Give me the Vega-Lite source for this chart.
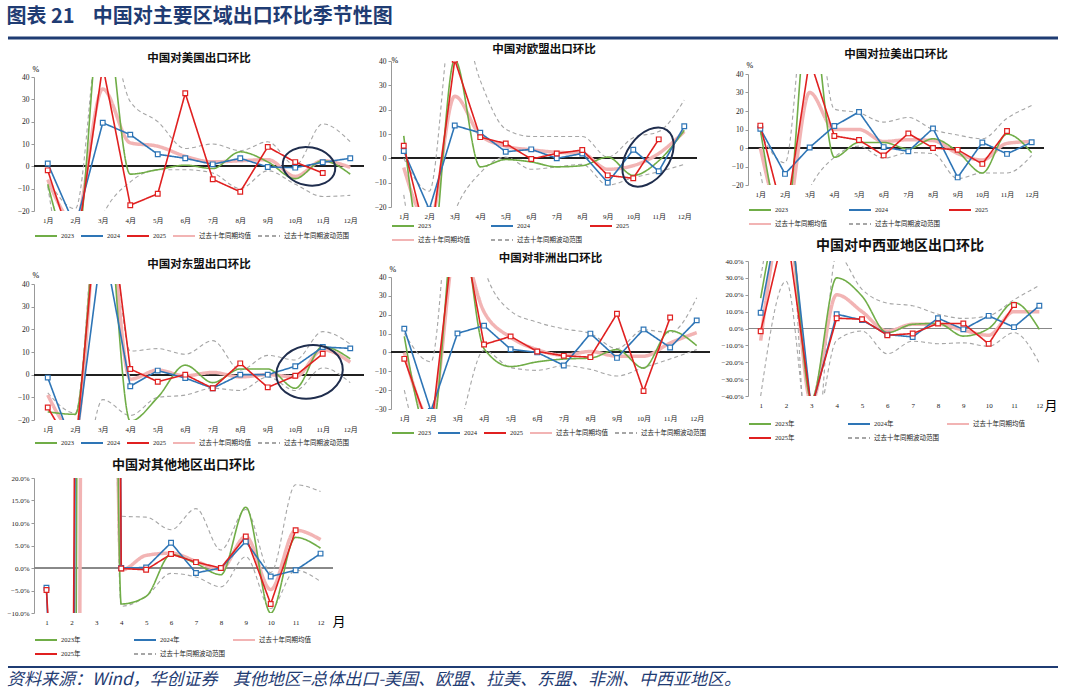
{
"$schema": "https://vega.github.io/schema/vega-lite/v6.json",
"background": "white",
"padding": {"left": 6, "top": 6, "right": 4, "bottom": 2},
"title": {"text": "图表 21\u00a0\u00a0\u00a0 中国对主要区域出口环比季节性图", "anchor": "start", "fontSize": 20, "fontWeight": "bold", "color": "#1f3c73", "offset": 10},
"columns": 1,
"spacing": 1,
"align": "none",
"resolve": {"scale": {"x": "independent", "y": "independent", "color": "independent", "strokeDash": "independent"}, "legend": {"color": "independent", "strokeDash": "independent"}},
"datasets": {
"us": [
{"m":1,"s":"2023","v":-8},{"m":2,"s":"2023","v":-40},{"m":3,"s":"2023","v":75},{"m":4,"s":"2023","v":-3.5},{"m":5,"s":"2023","v":-1.5},{"m":6,"s":"2023","v":0.5},{"m":7,"s":"2023","v":-1},{"m":8,"s":"2023","v":6.5},{"m":9,"s":"2023","v":2},{"m":10,"s":"2023","v":-5.5},{"m":11,"s":"2023","v":2.5},{"m":12,"s":"2023","v":-3.5},
{"m":1,"s":"2024","v":1.3},{"m":2,"s":"2024","v":-27},{"m":3,"s":"2024","v":19.5},{"m":4,"s":"2024","v":14.2},{"m":5,"s":"2024","v":5.4},{"m":6,"s":"2024","v":3.6},{"m":7,"s":"2024","v":0.9},{"m":8,"s":"2024","v":3.6},{"m":9,"s":"2024","v":-0.3},{"m":10,"s":"2024","v":-0.6},{"m":11,"s":"2024","v":1.8},{"m":12,"s":"2024","v":3.6},
{"m":1,"s":"2025","v":-1.8},{"m":2,"s":"2025","v":-40},{"m":3,"s":"2025","v":45},{"m":4,"s":"2025","v":-17.4},{"m":5,"s":"2025","v":-12.3},{"m":6,"s":"2025","v":32.7},{"m":7,"s":"2025","v":-5.8},{"m":8,"s":"2025","v":-11.4},{"m":9,"s":"2025","v":8.7},{"m":10,"s":"2025","v":1.9},{"m":11,"s":"2025","v":-3},
{"m":1,"s":"过去十年同期均值","v":-6},{"m":2,"s":"过去十年同期均值","v":-25},{"m":3,"s":"过去十年同期均值","v":34.6},{"m":4,"s":"过去十年同期均值","v":10.5},{"m":5,"s":"过去十年同期均值","v":9},{"m":6,"s":"过去十年同期均值","v":4.5},{"m":7,"s":"过去十年同期均值","v":2},{"m":8,"s":"过去十年同期均值","v":2.5},{"m":9,"s":"过去十年同期均值","v":3},{"m":10,"s":"过去十年同期均值","v":-4.5},{"m":11,"s":"过去十年同期均值","v":2.5},{"m":12,"s":"过去十年同期均值","v":-0.5},
{"m":1,"s":"过去十年同期波动范围","b":"u","v":-6},{"m":2,"s":"过去十年同期波动范围","b":"u","v":-19},{"m":3,"s":"过去十年同期波动范围","b":"u","v":70},{"m":4,"s":"过去十年同期波动范围","b":"u","v":29},{"m":5,"s":"过去十年同期波动范围","b":"u","v":20},{"m":6,"s":"过去十年同期波动范围","b":"u","v":8},{"m":7,"s":"过去十年同期波动范围","b":"u","v":10},{"m":8,"s":"过去十年同期波动范围","b":"u","v":7},{"m":9,"s":"过去十年同期波动范围","b":"u","v":11},{"m":10,"s":"过去十年同期波动范围","b":"u","v":0.5},{"m":11,"s":"过去十年同期波动范围","b":"u","v":19},{"m":12,"s":"过去十年同期波动范围","b":"u","v":11},
{"m":1,"s":"过去十年同期波动范围","b":"l","v":-9},{"m":2,"s":"过去十年同期波动范围","b":"l","v":-60},{"m":3,"s":"过去十年同期波动范围","b":"l","v":-22},{"m":4,"s":"过去十年同期波动范围","b":"l","v":-7},{"m":5,"s":"过去十年同期波动范围","b":"l","v":-1.5},{"m":6,"s":"过去十年同期波动范围","b":"l","v":-1.5},{"m":7,"s":"过去十年同期波动范围","b":"l","v":-3},{"m":8,"s":"过去十年同期波动范围","b":"l","v":-10},{"m":9,"s":"过去十年同期波动范围","b":"l","v":-2},{"m":10,"s":"过去十年同期波动范围","b":"l","v":-8},{"m":11,"s":"过去十年同期波动范围","b":"l","v":-13.5},{"m":12,"s":"过去十年同期波动范围","b":"l","v":-13}
],
"eu": [
{"m":1,"s":"2023","v":9.2},{"m":2,"s":"2023","v":-49},{"m":3,"s":"2023","v":40.5},{"m":4,"s":"2023","v":-3.5},{"m":5,"s":"2023","v":-0.5},{"m":6,"s":"2023","v":-1.5},{"m":7,"s":"2023","v":-3.5},{"m":8,"s":"2023","v":-3},{"m":9,"s":"2023","v":0.5},{"m":10,"s":"2023","v":-7},{"m":11,"s":"2023","v":-1},{"m":12,"s":"2023","v":11.5},
{"m":1,"s":"2024","v":3},{"m":2,"s":"2024","v":-21},{"m":3,"s":"2024","v":13.5},{"m":4,"s":"2024","v":10.5},{"m":5,"s":"2024","v":2.7},{"m":6,"s":"2024","v":3.7},{"m":7,"s":"2024","v":0},{"m":8,"s":"2024","v":2},{"m":9,"s":"2024","v":-10},{"m":10,"s":"2024","v":3.5},{"m":11,"s":"2024","v":-5.3},{"m":12,"s":"2024","v":13.2},
{"m":1,"s":"2025","v":5.2},{"m":2,"s":"2025","v":-38},{"m":3,"s":"2025","v":40.5},{"m":4,"s":"2025","v":8.7},{"m":5,"s":"2025","v":6.1},{"m":6,"s":"2025","v":-0.3},{"m":7,"s":"2025","v":2},{"m":8,"s":"2025","v":3.4},{"m":9,"s":"2025","v":-7},{"m":10,"s":"2025","v":-8.2},{"m":11,"s":"2025","v":7.8},
{"m":1,"s":"过去十年同期均值","v":-3.8},{"m":2,"s":"过去十年同期均值","v":-27},{"m":3,"s":"过去十年同期均值","v":25.5},{"m":4,"s":"过去十年同期均值","v":9.5},{"m":5,"s":"过去十年同期均值","v":5},{"m":6,"s":"过去十年同期均值","v":3.5},{"m":7,"s":"过去十年同期均值","v":2.5},{"m":8,"s":"过去十年同期均值","v":2},{"m":9,"s":"过去十年同期均值","v":-4.5},{"m":10,"s":"过去十年同期均值","v":-3},{"m":11,"s":"过去十年同期均值","v":2},{"m":12,"s":"过去十年同期均值","v":11},
{"m":1,"s":"过去十年同期波动范围","b":"u","v":0},{"m":2,"s":"过去十年同期波动范围","b":"u","v":-13.5},{"m":3,"s":"过去十年同期波动范围","b":"u","v":65},{"m":4,"s":"过去十年同期波动范围","b":"u","v":32},{"m":5,"s":"过去十年同期波动范围","b":"u","v":12},{"m":6,"s":"过去十年同期波动范围","b":"u","v":9},{"m":7,"s":"过去十年同期波动范围","b":"u","v":9},{"m":8,"s":"过去十年同期波动范围","b":"u","v":9},{"m":9,"s":"过去十年同期波动范围","b":"u","v":0.5},{"m":10,"s":"过去十年同期波动范围","b":"u","v":8.5},{"m":11,"s":"过去十年同期波动范围","b":"u","v":11},{"m":12,"s":"过去十年同期波动范围","b":"u","v":24},
{"m":1,"s":"过去十年同期波动范围","b":"l","v":-15},{"m":2,"s":"过去十年同期波动范围","b":"l","v":-60},{"m":3,"s":"过去十年同期波动范围","b":"l","v":-22},{"m":4,"s":"过去十年同期波动范围","b":"l","v":-6},{"m":5,"s":"过去十年同期波动范围","b":"l","v":0.5},{"m":6,"s":"过去十年同期波动范围","b":"l","v":-4.5},{"m":7,"s":"过去十年同期波动范围","b":"l","v":-3.5},{"m":8,"s":"过去十年同期波动范围","b":"l","v":-2.5},{"m":9,"s":"过去十年同期波动范围","b":"l","v":-11},{"m":10,"s":"过去十年同期波动范围","b":"l","v":-8},{"m":11,"s":"过去十年同期波动范围","b":"l","v":-5.5},{"m":12,"s":"过去十年同期波动范围","b":"l","v":-2.5}
],
"la": [
{"m":1,"s":"2023","v":10},{"m":2,"s":"2023","v":-45},{"m":3,"s":"2023","v":80},{"m":4,"s":"2023","v":-5},{"m":5,"s":"2023","v":3},{"m":6,"s":"2023","v":3},{"m":7,"s":"2023","v":-0.5},{"m":8,"s":"2023","v":5},{"m":9,"s":"2023","v":-2},{"m":10,"s":"2023","v":-13.5},{"m":11,"s":"2023","v":7.5},{"m":12,"s":"2023","v":-2.5},
{"m":1,"s":"2024","v":10.4},{"m":2,"s":"2024","v":-14},{"m":3,"s":"2024","v":0.3},{"m":4,"s":"2024","v":11.9},{"m":5,"s":"2024","v":19.5},{"m":6,"s":"2024","v":0.5},{"m":7,"s":"2024","v":-1.8},{"m":8,"s":"2024","v":10.6},{"m":9,"s":"2024","v":-15.9},{"m":10,"s":"2024","v":3},{"m":11,"s":"2024","v":-3.2},{"m":12,"s":"2024","v":3.1},
{"m":1,"s":"2025","v":12.1},{"m":2,"s":"2025","v":-40},{"m":3,"s":"2025","v":48},{"m":4,"s":"2025","v":6.5},{"m":5,"s":"2025","v":4.3},{"m":6,"s":"2025","v":-4},{"m":7,"s":"2025","v":7.9},{"m":8,"s":"2025","v":0},{"m":9,"s":"2025","v":-1},{"m":10,"s":"2025","v":-8.6},{"m":11,"s":"2025","v":9.2},
{"m":1,"s":"过去十年同期均值","v":0},{"m":2,"s":"过去十年同期均值","v":-40},{"m":3,"s":"过去十年同期均值","v":30},{"m":4,"s":"过去十年同期均值","v":10},{"m":5,"s":"过去十年同期均值","v":10},{"m":6,"s":"过去十年同期均值","v":3.5},{"m":7,"s":"过去十年同期均值","v":4.5},{"m":8,"s":"过去十年同期均值","v":4},{"m":9,"s":"过去十年同期均值","v":-3},{"m":10,"s":"过去十年同期均值","v":-6.5},{"m":11,"s":"过去十年同期均值","v":2.5},{"m":12,"s":"过去十年同期均值","v":3.5},
{"m":1,"s":"过去十年同期波动范围","b":"u","v":8},{"m":2,"s":"过去十年同期波动范围","b":"u","v":-8},{"m":3,"s":"过去十年同期波动范围","b":"u","v":100},{"m":4,"s":"过去十年同期波动范围","b":"u","v":21},{"m":5,"s":"过去十年同期波动范围","b":"u","v":19},{"m":6,"s":"过去十年同期波动范围","b":"u","v":14},{"m":7,"s":"过去十年同期波动范围","b":"u","v":16.5},{"m":8,"s":"过去十年同期波动范围","b":"u","v":10},{"m":9,"s":"过去十年同期波动范围","b":"u","v":7},{"m":10,"s":"过去十年同期波动范围","b":"u","v":5},{"m":11,"s":"过去十年同期波动范围","b":"u","v":16},{"m":12,"s":"过去十年同期波动范围","b":"u","v":23},
{"m":1,"s":"过去十年同期波动范围","b":"l","v":-13},{"m":2,"s":"过去十年同期波动范围","b":"l","v":-60},{"m":3,"s":"过去十年同期波动范围","b":"l","v":-22},{"m":4,"s":"过去十年同期波动范围","b":"l","v":-5},{"m":5,"s":"过去十年同期波动范围","b":"l","v":1},{"m":6,"s":"过去十年同期波动范围","b":"l","v":-5.5},{"m":7,"s":"过去十年同期波动范围","b":"l","v":-2.5},{"m":8,"s":"过去十年同期波动范围","b":"l","v":-3},{"m":9,"s":"过去十年同期波动范围","b":"l","v":-16.5},{"m":10,"s":"过去十年同期波动范围","b":"l","v":-13.5},{"m":11,"s":"过去十年同期波动范围","b":"l","v":-13.5},{"m":12,"s":"过去十年同期波动范围","b":"l","v":-4}
],
"as": [
{"m":1,"s":"2023","v":-16.4},{"m":2,"s":"2023","v":-17.5},{"m":3,"s":"2023","v":90},{"m":4,"s":"2023","v":-20.5},{"m":5,"s":"2023","v":-10},{"m":6,"s":"2023","v":4.2},{"m":7,"s":"2023","v":-3.5},{"m":8,"s":"2023","v":2.5},{"m":9,"s":"2023","v":2.5},{"m":10,"s":"2023","v":-6},{"m":11,"s":"2023","v":12.4},{"m":12,"s":"2023","v":7},
{"m":1,"s":"2024","v":-1.3},{"m":2,"s":"2024","v":-34},{"m":3,"s":"2024","v":60},{"m":4,"s":"2024","v":-5.1},{"m":5,"s":"2024","v":1.8},{"m":6,"s":"2024","v":-1.5},{"m":7,"s":"2024","v":-6},{"m":8,"s":"2024","v":0},{"m":9,"s":"2024","v":0},{"m":10,"s":"2024","v":3.7},{"m":11,"s":"2024","v":12.2},{"m":12,"s":"2024","v":11.6},
{"m":1,"s":"2025","v":-14.5},{"m":2,"s":"2025","v":-35},{"m":3,"s":"2025","v":100},{"m":4,"s":"2025","v":2.5},{"m":5,"s":"2025","v":-3.1},{"m":6,"s":"2025","v":0},{"m":7,"s":"2025","v":-6},{"m":8,"s":"2025","v":5},{"m":9,"s":"2025","v":-5.6},{"m":10,"s":"2025","v":-0.5},{"m":11,"s":"2025","v":9.2},
{"m":1,"s":"过去十年同期均值","v":-9},{"m":2,"s":"过去十年同期均值","v":-25},{"m":3,"s":"过去十年同期均值","v":90},{"m":4,"s":"过去十年同期均值","v":-2},{"m":5,"s":"过去十年同期均值","v":2},{"m":6,"s":"过去十年同期均值","v":-0.5},{"m":7,"s":"过去十年同期均值","v":1},{"m":8,"s":"过去十年同期均值","v":-1},{"m":9,"s":"过去十年同期均值","v":0},{"m":10,"s":"过去十年同期均值","v":-1},{"m":11,"s":"过去十年同期均值","v":11},{"m":12,"s":"过去十年同期均值","v":5.5},
{"m":1,"s":"过去十年同期波动范围","b":"u","v":-8},{"m":2,"s":"过去十年同期波动范围","b":"u","v":-17},{"m":3,"s":"过去十年同期波动范围","b":"u","v":100},{"m":4,"s":"过去十年同期波动范围","b":"u","v":10.4},{"m":5,"s":"过去十年同期波动范围","b":"u","v":11.5},{"m":6,"s":"过去十年同期波动范围","b":"u","v":9},{"m":7,"s":"过去十年同期波动范围","b":"u","v":15},{"m":8,"s":"过去十年同期波动范围","b":"u","v":2},{"m":9,"s":"过去十年同期波动范围","b":"u","v":8.5},{"m":10,"s":"过去十年同期波动范围","b":"u","v":6.5},{"m":11,"s":"过去十年同期波动范围","b":"u","v":19},{"m":12,"s":"过去十年同期波动范围","b":"u","v":13.5},
{"m":1,"s":"过去十年同期波动范围","b":"l","v":-30},{"m":2,"s":"过去十年同期波动范围","b":"l","v":-60},{"m":3,"s":"过去十年同期波动范围","b":"l","v":-11},{"m":4,"s":"过去十年同期波动范围","b":"l","v":-18},{"m":5,"s":"过去十年同期波动范围","b":"l","v":-10},{"m":6,"s":"过去十年同期波动范围","b":"l","v":-9},{"m":7,"s":"过去十年同期波动范围","b":"l","v":-6},{"m":8,"s":"过去十年同期波动范围","b":"l","v":-7},{"m":9,"s":"过去十年同期波动范围","b":"l","v":-1},{"m":10,"s":"过去十年同期波动范围","b":"l","v":-7},{"m":11,"s":"过去十年同期波动范围","b":"l","v":3},{"m":12,"s":"过去十年同期波动范围","b":"l","v":-3.5}
],
"af": [
{"m":1,"s":"2023","v":8.5},{"m":2,"s":"2023","v":-45},{"m":3,"s":"2023","v":80},{"m":4,"s":"2023","v":2},{"m":5,"s":"2023","v":-7.5},{"m":6,"s":"2023","v":-5},{"m":7,"s":"2023","v":-3.5},{"m":8,"s":"2023","v":-3},{"m":9,"s":"2023","v":1.5},{"m":10,"s":"2023","v":-8.3},{"m":11,"s":"2023","v":11.5},{"m":12,"s":"2023","v":3.6},
{"m":1,"s":"2024","v":12.6},{"m":2,"s":"2024","v":-31},{"m":3,"s":"2024","v":10.1},{"m":4,"s":"2024","v":14.2},{"m":5,"s":"2024","v":1.7},{"m":6,"s":"2024","v":0},{"m":7,"s":"2024","v":-6.9},{"m":8,"s":"2024","v":10},{"m":9,"s":"2024","v":-2.9},{"m":10,"s":"2024","v":12.2},{"m":11,"s":"2024","v":2.6},{"m":12,"s":"2024","v":17},
{"m":1,"s":"2025","v":-3.4},{"m":2,"s":"2025","v":-43},{"m":3,"s":"2025","v":80},{"m":4,"s":"2025","v":4.2},{"m":5,"s":"2025","v":8.5},{"m":6,"s":"2025","v":0.5},{"m":7,"s":"2025","v":-1.8},{"m":8,"s":"2025","v":-2.5},{"m":9,"s":"2025","v":20.5},{"m":10,"s":"2025","v":-20.5},{"m":11,"s":"2025","v":18.5},
{"m":1,"s":"过去十年同期均值","v":0},{"m":2,"s":"过去十年同期均值","v":-35},{"m":3,"s":"过去十年同期均值","v":60},{"m":4,"s":"过去十年同期均值","v":21.5},{"m":5,"s":"过去十年同期均值","v":8},{"m":6,"s":"过去十年同期均值","v":1.5},{"m":7,"s":"过去十年同期均值","v":-1.5},{"m":8,"s":"过去十年同期均值","v":0.5},{"m":9,"s":"过去十年同期均值","v":-2},{"m":10,"s":"过去十年同期均值","v":-2},{"m":11,"s":"过去十年同期均值","v":5},{"m":12,"s":"过去十年同期均值","v":10.5},
{"m":1,"s":"过去十年同期波动范围","b":"u","v":10},{"m":2,"s":"过去十年同期波动范围","b":"u","v":-5},{"m":3,"s":"过去十年同期波动范围","b":"u","v":120},{"m":4,"s":"过去十年同期波动范围","b":"u","v":45},{"m":5,"s":"过去十年同期波动范围","b":"u","v":22},{"m":6,"s":"过去十年同期波动范围","b":"u","v":16},{"m":7,"s":"过去十年同期波动范围","b":"u","v":12.5},{"m":8,"s":"过去十年同期波动范围","b":"u","v":10},{"m":9,"s":"过去十年同期波动范围","b":"u","v":2},{"m":10,"s":"过去十年同期波动范围","b":"u","v":12},{"m":11,"s":"过去十年同期波动范围","b":"u","v":10.5},{"m":12,"s":"过去十年同期波动范围","b":"u","v":29},
{"m":1,"s":"过去十年同期波动范围","b":"l","v":-20},{"m":2,"s":"过去十年同期波动范围","b":"l","v":-60},{"m":3,"s":"过去十年同期波动范围","b":"l","v":-42},{"m":4,"s":"过去十年同期波动范围","b":"l","v":1},{"m":5,"s":"过去十年同期波动范围","b":"l","v":-8},{"m":6,"s":"过去十年同期波动范围","b":"l","v":-9.5},{"m":7,"s":"过去十年同期波动范围","b":"l","v":-7},{"m":8,"s":"过去十年同期波动范围","b":"l","v":-9},{"m":9,"s":"过去十年同期波动范围","b":"l","v":-12.5},{"m":10,"s":"过去十年同期波动范围","b":"l","v":-8},{"m":11,"s":"过去十年同期波动范围","b":"l","v":-3.5},{"m":12,"s":"过去十年同期波动范围","b":"l","v":1.5}
],
"cw": [
{"m":1,"s":"2023年","v":18},{"m":2,"s":"2023年","v":75},{"m":3,"s":"2023年","v":-42},{"m":4,"s":"2023年","v":30},{"m":5,"s":"2023年","v":19.2},{"m":6,"s":"2023年","v":-2.5},{"m":7,"s":"2023年","v":2.5},{"m":8,"s":"2023年","v":3},{"m":9,"s":"2023年","v":-4.5},{"m":10,"s":"2023年","v":0},{"m":11,"s":"2023年","v":15.4},{"m":12,"s":"2023年","v":-0.5},
{"m":1,"s":"2024年","v":9.3},{"m":2,"s":"2024年","v":90},{"m":3,"s":"2024年","v":-48},{"m":4,"s":"2024年","v":8.5},{"m":5,"s":"2024年","v":5},{"m":6,"s":"2024年","v":-3.6},{"m":7,"s":"2024年","v":-5},{"m":8,"s":"2024年","v":6.1},{"m":9,"s":"2024年","v":-0.5},{"m":10,"s":"2024年","v":7.5},{"m":11,"s":"2024年","v":0.8},{"m":12,"s":"2024年","v":13.5},
{"m":1,"s":"2025年","v":-1.6},{"m":2,"s":"2025年","v":62},{"m":3,"s":"2025年","v":-47},{"m":4,"s":"2025年","v":6.1},{"m":5,"s":"2025年","v":5.5},{"m":6,"s":"2025年","v":-4},{"m":7,"s":"2025年","v":-3},{"m":8,"s":"2025年","v":3},{"m":9,"s":"2025年","v":3},{"m":10,"s":"2025年","v":-9.1},{"m":11,"s":"2025年","v":13.9},
{"m":1,"s":"过去十年同期均值","v":-7.2},{"m":2,"s":"过去十年同期均值","v":70},{"m":3,"s":"过去十年同期均值","v":-44},{"m":4,"s":"过去十年同期均值","v":20},{"m":5,"s":"过去十年同期均值","v":10},{"m":6,"s":"过去十年同期均值","v":-1.5},{"m":7,"s":"过去十年同期均值","v":2.5},{"m":8,"s":"过去十年同期均值","v":2.5},{"m":9,"s":"过去十年同期均值","v":-1},{"m":10,"s":"过去十年同期均值","v":-4},{"m":11,"s":"过去十年同期均值","v":10},{"m":12,"s":"过去十年同期均值","v":10},
{"m":1,"s":"过去十年同期波动范围","b":"u","v":30},{"m":2,"s":"过去十年同期波动范围","b":"u","v":90},{"m":3,"s":"过去十年同期波动范围","b":"u","v":-100},{"m":4,"s":"过去十年同期波动范围","b":"u","v":44},{"m":5,"s":"过去十年同期波动范围","b":"u","v":23.2},{"m":6,"s":"过去十年同期波动范围","b":"u","v":15},{"m":7,"s":"过去十年同期波动范围","b":"u","v":13.5},{"m":8,"s":"过去十年同期波动范围","b":"u","v":8.5},{"m":9,"s":"过去十年同期波动范围","b":"u","v":6},{"m":10,"s":"过去十年同期波动范围","b":"u","v":7.5},{"m":11,"s":"过去十年同期波动范围","b":"u","v":17},{"m":12,"s":"过去十年同期波动范围","b":"u","v":25.5},
{"m":1,"s":"过去十年同期波动范围","b":"l","v":-40},{"m":2,"s":"过去十年同期波动范围","b":"l","v":28},{"m":3,"s":"过去十年同期波动范围","b":"l","v":-70},{"m":4,"s":"过去十年同期波动范围","b":"l","v":-7},{"m":5,"s":"过去十年同期波动范围","b":"l","v":-1.5},{"m":6,"s":"过去十年同期波动范围","b":"l","v":-15},{"m":7,"s":"过去十年同期波动范围","b":"l","v":-7.5},{"m":8,"s":"过去十年同期波动范围","b":"l","v":-9},{"m":9,"s":"过去十年同期波动范围","b":"l","v":-8.5},{"m":10,"s":"过去十年同期波动范围","b":"l","v":-10.5},{"m":11,"s":"过去十年同期波动范围","b":"l","v":-2.5},{"m":12,"s":"过去十年同期波动范围","b":"l","v":-20.5}
],
"ot": [
{"m":2,"s":"2023年","v":-300},{"m":3,"s":"2023年","v":700},{"m":4,"s":"2023年","v":-8},{"m":5,"s":"2023年","v":-6.3},{"m":6,"s":"2023年","v":3},{"m":7,"s":"2023年","v":1},{"m":8,"s":"2023年","v":-1.5},{"m":9,"s":"2023年","v":13.5},{"m":10,"s":"2023年","v":-10},{"m":11,"s":"2023年","v":6.8},{"m":12,"s":"2023年","v":4.4},
{"m":1,"s":"2024年","v":-4.4},{"m":2,"s":"2024年","v":-150},{"m":3,"s":"2024年","v":1000},{"m":4,"s":"2024年","v":0},{"m":5,"s":"2024年","v":0.1},{"m":6,"s":"2024年","v":5.6},{"m":7,"s":"2024年","v":-1.1},{"m":8,"s":"2024年","v":0},{"m":9,"s":"2024年","v":5.9},{"m":10,"s":"2024年","v":-1.9},{"m":11,"s":"2024年","v":-0.5},{"m":12,"s":"2024年","v":3.2},
{"m":1,"s":"2025年","v":-4.9},{"m":2,"s":"2025年","v":-100},{"m":3,"s":"2025年","v":900},{"m":4,"s":"2025年","v":-0.1},{"m":5,"s":"2025年","v":-0.4},{"m":6,"s":"2025年","v":3.1},{"m":7,"s":"2025年","v":1.3},{"m":8,"s":"2025年","v":0},{"m":9,"s":"2025年","v":7},{"m":10,"s":"2025年","v":-8},{"m":11,"s":"2025年","v":8.4},
{"m":2,"s":"过去十年同期均值","v":-500},{"m":3,"s":"过去十年同期均值","v":500},{"m":4,"s":"过去十年同期均值","v":-0.5},{"m":5,"s":"过去十年同期均值","v":2.8},{"m":6,"s":"过去十年同期均值","v":3.3},{"m":7,"s":"过去十年同期均值","v":1.5},{"m":8,"s":"过去十年同期均值","v":-0.3},{"m":9,"s":"过去十年同期均值","v":7},{"m":10,"s":"过去十年同期均值","v":-4.8},{"m":11,"s":"过去十年同期均值","v":8.4},{"m":12,"s":"过去十年同期均值","v":6.3},
{"m":3,"s":"过去十年同期波动范围","b":"u","v":1500},{"m":4,"s":"过去十年同期波动范围","b":"u","v":11.5},{"m":5,"s":"过去十年同期波动范围","b":"u","v":11.3},{"m":6,"s":"过去十年同期波动范围","b":"u","v":8.5},{"m":7,"s":"过去十年同期波动范围","b":"u","v":13.2},{"m":8,"s":"过去十年同期波动范围","b":"u","v":4},{"m":9,"s":"过去十年同期波动范围","b":"u","v":13},{"m":10,"s":"过去十年同期波动范围","b":"u","v":-1},{"m":11,"s":"过去十年同期波动范围","b":"u","v":18.5},{"m":12,"s":"过去十年同期波动范围","b":"u","v":17},
{"m":3,"s":"过去十年同期波动范围","b":"l","v":800},{"m":4,"s":"过去十年同期波动范围","b":"l","v":-8.5},{"m":5,"s":"过去十年同期波动范围","b":"l","v":-6.3},{"m":6,"s":"过去十年同期波动范围","b":"l","v":-1.2},{"m":7,"s":"过去十年同期波动范围","b":"l","v":-2},{"m":8,"s":"过去十年同期波动范围","b":"l","v":-4.2},{"m":9,"s":"过去十年同期波动范围","b":"l","v":2.5},{"m":10,"s":"过去十年同期波动范围","b":"l","v":-9},{"m":11,"s":"过去十年同期波动范围","b":"l","v":-0.5},{"m":12,"s":"过去十年同期波动范围","b":"l","v":-3}
]
},
"concat": [
{"width": 1024, "height": 1, "data": {"values": [{"a": -0.0254, "b": 1, "y": 0}]}, "mark": {"type": "rule", "color": "#1f3c73", "strokeWidth": 3}, "encoding": {"x": {"field": "a", "type": "quantitative", "scale": {"domain": [0, 1]}, "axis": null}, "x2": {"field": "b"}, "y": {"field": "y", "type": "quantitative", "scale": {"domain": [0, 1]}, "axis": null}}},
{"hconcat": [
 {"vconcat": [
  {"width": 1, "height": 10, "data": {"values": []}, "mark": "rule", "encoding": {}},
  {"vconcat": [
   {"width": 330, "height": 134, "title": {"text": "中国对美国出口环比", "fontSize": 11.5, "offset": 1}, "data": {"name": "us"},
    "layer": [
     {"mark": {"type": "rule", "color": "#222", "strokeWidth": 0.8}, "encoding": {"y": {"datum": 0}}},
     {"transform": [{"filter": {"field": "s", "equal": "过去十年同期波动范围"}}], "mark": {"type": "line", "interpolate": "monotone", "clip": true, "strokeWidth": 1.1},
      "encoding": {"x": {"field": "m", "type": "quantitative", "scale": {"domain": [0.5, 12.5], "nice": false, "zero": false}, "axis": {"values": [1,2,3,4,5,6,7,8,9,10,11,12], "tickCount": 30, "labelOverlap": false, "labelExpr": "datum.value + '月'", "title": null}},
       "y": {"field": "v", "type": "quantitative", "scale": {"domain": [-20, 40], "nice": false, "zero": false}, "axis": {"values": [-20,-10,0,10,20,30,40], "tickCount": 30, "labelOverlap": false, "title": "%", "titleAngle": 0, "titleAlign": "left", "titleBaseline": "bottom", "titleX": -2, "titleY": -4, "titleFontSize": 8, "titleFontWeight": "normal", "titleFont": "Liberation Serif"}},
       "color": {"field": "s", "type": "nominal", "scale": {"domain": ["2023","2024","2025","过去十年同期均值","过去十年同期波动范围"], "range": ["#70ad47","#2e75b6","#e02020","#f2b4b4","#a6a6a6"]}, "legend": {"title": null, "orient": "bottom", "direction": "horizontal", "columns": 5, "offset": 7}},
       "strokeDash": {"field": "s", "type": "nominal", "scale": {"domain": ["2023","2024","2025","过去十年同期均值","过去十年同期波动范围"], "range": [[1,0],[1,0],[1,0],[1,0],[4,3]]}, "legend": {"title": null, "orient": "bottom", "direction": "horizontal", "columns": 5, "offset": 7}},
       "detail": {"field": "b"}}},
     {"transform": [{"filter": {"field": "s", "equal": "过去十年同期均值"}}], "mark": {"type": "line", "interpolate": "monotone", "clip": true, "strokeWidth": 3.5}, "encoding": {"x": {"field": "m", "type": "quantitative"}, "y": {"field": "v", "type": "quantitative"}, "color": {"field": "s", "type": "nominal"}, "strokeDash": {"field": "s", "type": "nominal"}}},
     {"transform": [{"filter": {"field": "s", "equal": "2023"}}], "mark": {"type": "line", "interpolate": "monotone", "clip": true, "strokeWidth": 1.6}, "encoding": {"x": {"field": "m", "type": "quantitative"}, "y": {"field": "v", "type": "quantitative"}, "color": {"field": "s", "type": "nominal"}, "strokeDash": {"field": "s", "type": "nominal"}}},
     {"transform": [{"filter": {"field": "s", "oneOf": ["2024","2025"]}}], "mark": {"type": "line", "clip": true, "strokeWidth": 1.6}, "encoding": {"x": {"field": "m", "type": "quantitative"}, "y": {"field": "v", "type": "quantitative"}, "color": {"field": "s", "type": "nominal"}, "strokeDash": {"field": "s", "type": "nominal"}}},
     {"transform": [{"filter": {"field": "s", "oneOf": ["2024","2025"]}}], "mark": {"type": "point", "shape": "square", "filled": false, "fill": "white", "size": 22, "strokeWidth": 1.2, "opacity": 1, "clip": true}, "encoding": {"x": {"field": "m", "type": "quantitative"}, "y": {"field": "v", "type": "quantitative"}, "color": {"field": "s", "type": "nominal"}}},
     {"data": {"values": [{"m": 10.5, "v": 0}]}, "mark": {"type": "point", "shape": "M-1,0A1,0.72 0 1,1 1,0A1,0.72 0 1,1 -1,0Z", "size": 2800, "angle": 10, "filled": false, "stroke": "#1f2d4d", "strokeWidth": 2, "opacity": 1}, "encoding": {"x": {"field": "m", "type": "quantitative"}, "y": {"field": "v", "type": "quantitative"}}}
    ]},
   {"vconcat": [
   {"width": 330, "height": 136, "title": {"text": "中国对东盟出口环比", "fontSize": 11.5, "offset": 1}, "data": {"name": "as"},
    "layer": [
     {"mark": {"type": "rule", "color": "#222", "strokeWidth": 0.8}, "encoding": {"y": {"datum": 0}}},
     {"transform": [{"filter": {"field": "s", "equal": "过去十年同期波动范围"}}], "mark": {"type": "line", "interpolate": "monotone", "clip": true, "strokeWidth": 1.1},
      "encoding": {"x": {"field": "m", "type": "quantitative", "scale": {"domain": [0.5, 12.5], "nice": false, "zero": false}, "axis": {"values": [1,2,3,4,5,6,7,8,9,10,11,12], "tickCount": 30, "labelOverlap": false, "labelExpr": "datum.value + '月'", "title": null}},
       "y": {"field": "v", "type": "quantitative", "scale": {"domain": [-20, 40], "nice": false, "zero": false}, "axis": {"values": [-20,-10,0,10,20,30,40], "tickCount": 30, "labelOverlap": false, "title": "%", "titleAngle": 0, "titleAlign": "left", "titleBaseline": "bottom", "titleX": -2, "titleY": -5, "titleFontSize": 8, "titleFontWeight": "normal", "titleFont": "Liberation Serif"}},
       "color": {"field": "s", "type": "nominal", "scale": {"domain": ["2023","2024","2025","过去十年同期均值","过去十年同期波动范围"], "range": ["#70ad47","#2e75b6","#e02020","#f2b4b4","#a6a6a6"]}, "legend": {"title": null, "orient": "bottom", "direction": "horizontal", "columns": 5, "offset": 5}},
       "strokeDash": {"field": "s", "type": "nominal", "scale": {"domain": ["2023","2024","2025","过去十年同期均值","过去十年同期波动范围"], "range": [[1,0],[1,0],[1,0],[1,0],[4,3]]}, "legend": {"title": null, "orient": "bottom", "direction": "horizontal", "columns": 5, "offset": 5}},
       "detail": {"field": "b"}}},
     {"transform": [{"filter": {"field": "s", "equal": "过去十年同期均值"}}], "mark": {"type": "line", "interpolate": "monotone", "clip": true, "strokeWidth": 3.5}, "encoding": {"x": {"field": "m", "type": "quantitative"}, "y": {"field": "v", "type": "quantitative"}, "color": {"field": "s", "type": "nominal"}, "strokeDash": {"field": "s", "type": "nominal"}}},
     {"transform": [{"filter": {"field": "s", "equal": "2023"}}], "mark": {"type": "line", "interpolate": "monotone", "clip": true, "strokeWidth": 1.6}, "encoding": {"x": {"field": "m", "type": "quantitative"}, "y": {"field": "v", "type": "quantitative"}, "color": {"field": "s", "type": "nominal"}, "strokeDash": {"field": "s", "type": "nominal"}}},
     {"transform": [{"filter": {"field": "s", "oneOf": ["2024","2025"]}}], "mark": {"type": "line", "clip": true, "strokeWidth": 1.6}, "encoding": {"x": {"field": "m", "type": "quantitative"}, "y": {"field": "v", "type": "quantitative"}, "color": {"field": "s", "type": "nominal"}, "strokeDash": {"field": "s", "type": "nominal"}}},
     {"transform": [{"filter": {"field": "s", "oneOf": ["2024","2025"]}}], "mark": {"type": "point", "shape": "square", "filled": false, "fill": "white", "size": 22, "strokeWidth": 1.2, "opacity": 1, "clip": true}, "encoding": {"x": {"field": "m", "type": "quantitative"}, "y": {"field": "v", "type": "quantitative"}, "color": {"field": "s", "type": "nominal"}}},
     {"data": {"values": [{"m": 10.52, "v": 1.2}]}, "mark": {"type": "point", "shape": "M-1,0A1,0.79 0 1,1 1,0A1,0.79 0 1,1 -1,0Z", "size": 4489, "angle": -12, "filled": false, "stroke": "#1f2d4d", "strokeWidth": 2, "opacity": 1}, "encoding": {"x": {"field": "m", "type": "quantitative"}, "y": {"field": "v", "type": "quantitative"}}}
    ]},
   {"width": 299, "height": 135, "title": {"text": "中国对其他地区出口环比", "fontSize": 13, "offset": 2}, "data": {"name": "ot"},
    "layer": [
     {"mark": {"type": "rule", "color": "#888", "strokeWidth": 1}, "encoding": {"y": {"datum": 0}}},
     {"transform": [{"filter": {"field": "s", "equal": "过去十年同期波动范围"}}], "mark": {"type": "line", "interpolate": "monotone", "clip": true, "strokeWidth": 1.1},
      "encoding": {"x": {"field": "m", "type": "quantitative", "scale": {"domain": [0.5, 12.5], "nice": false, "zero": false}, "axis": {"values": [1,2,3,4,5,6,7,8,9,10,11,12], "tickCount": 30, "labelOverlap": false, "format": "d", "title": "月", "titleFontSize": 13, "titleFont": "Noto Sans CJK SC", "titleFontWeight": "normal", "titleAlign": "left", "titleBaseline": "alphabetic", "titleX": 298, "titleY": 12}},
       "y": {"field": "v", "type": "quantitative", "scale": {"domain": [-10, 20], "nice": false, "zero": false}, "axis": {"values": [-10,-5,0,5,10,15,20], "tickCount": 30, "labelOverlap": false, "labelExpr": "format(datum.value, '.1f') + '%'", "title": null, "labelFontSize": 7}},
       "color": {"field": "s", "type": "nominal", "scale": {"domain": ["2023年","2024年","过去十年同期均值","2025年","过去十年同期波动范围"], "range": ["#70ad47","#2e75b6","#f2b4b4","#e02020","#a6a6a6"]}, "legend": {"title": null, "orient": "bottom", "direction": "horizontal", "columns": 3, "gridAlign": "all", "columnPadding": 4, "offset": 6}},
       "strokeDash": {"field": "s", "type": "nominal", "scale": {"domain": ["2023年","2024年","过去十年同期均值","2025年","过去十年同期波动范围"], "range": [[1,0],[1,0],[1,0],[1,0],[4,3]]}, "legend": {"title": null, "orient": "bottom", "direction": "horizontal", "columns": 3, "gridAlign": "all", "columnPadding": 4, "offset": 6}},
       "detail": {"field": "b"}}},
     {"transform": [{"filter": {"field": "s", "equal": "过去十年同期均值"}}], "mark": {"type": "line", "interpolate": "monotone", "clip": true, "strokeWidth": 3.5}, "encoding": {"x": {"field": "m", "type": "quantitative"}, "y": {"field": "v", "type": "quantitative"}, "color": {"field": "s", "type": "nominal"}, "strokeDash": {"field": "s", "type": "nominal"}}},
     {"transform": [{"filter": {"field": "s", "equal": "2023年"}}], "mark": {"type": "line", "interpolate": "monotone", "clip": true, "strokeWidth": 1.6}, "encoding": {"x": {"field": "m", "type": "quantitative"}, "y": {"field": "v", "type": "quantitative"}, "color": {"field": "s", "type": "nominal"}, "strokeDash": {"field": "s", "type": "nominal"}}},
     {"transform": [{"filter": {"field": "s", "oneOf": ["2024年","2025年"]}}], "mark": {"type": "line", "clip": true, "strokeWidth": 1.6}, "encoding": {"x": {"field": "m", "type": "quantitative"}, "y": {"field": "v", "type": "quantitative"}, "color": {"field": "s", "type": "nominal"}, "strokeDash": {"field": "s", "type": "nominal"}}},
     {"transform": [{"filter": {"field": "s", "oneOf": ["2024年","2025年"]}}], "mark": {"type": "point", "shape": "square", "filled": false, "fill": "white", "size": 22, "strokeWidth": 1.2, "opacity": 1, "clip": true}, "encoding": {"x": {"field": "m", "type": "quantitative"}, "y": {"field": "v", "type": "quantitative"}, "color": {"field": "s", "type": "nominal"}}}
    ]}
   ], "spacing": 12, "resolve": {"scale": {"x": "independent", "y": "independent", "color": "independent", "strokeDash": "independent"}, "legend": {"color": "independent", "strokeDash": "independent"}}}
  ], "spacing": 18, "resolve": {"scale": {"x": "independent", "y": "independent", "color": "independent", "strokeDash": "independent"}, "legend": {"color": "independent", "strokeDash": "independent"}}}
 ], "spacing": 1, "resolve": {"scale": {"x": "independent", "y": "independent", "color": "independent", "strokeDash": "independent"}, "legend": {"color": "independent", "strokeDash": "independent"}}},
 {"vconcat": [
  {"width": 1, "height": 1, "data": {"values": []}, "mark": "rule", "encoding": {}},
  {"vconcat": [
   {"width": 306, "height": 146, "title": {"text": "中国对欧盟出口环比", "fontSize": 11.5, "offset": 1}, "data": {"name": "eu"},
    "layer": [
     {"mark": {"type": "rule", "color": "#222", "strokeWidth": 0.8}, "encoding": {"y": {"datum": 0}}},
     {"transform": [{"filter": {"field": "s", "equal": "过去十年同期波动范围"}}], "mark": {"type": "line", "interpolate": "monotone", "clip": true, "strokeWidth": 1.1},
      "encoding": {"x": {"field": "m", "type": "quantitative", "scale": {"domain": [0.5, 12.5], "nice": false, "zero": false}, "axis": {"values": [1,2,3,4,5,6,7,8,9,10,11,12], "tickCount": 30, "labelOverlap": false, "labelExpr": "datum.value + '月'", "title": null}},
       "y": {"field": "v", "type": "quantitative", "scale": {"domain": [-20, 40], "nice": false, "zero": false}, "axis": {"values": [-20,-10,0,10,20,30,40], "tickCount": 30, "labelOverlap": false, "title": "%", "titleAngle": 0, "titleAlign": "left", "titleBaseline": "bottom", "titleX": 0, "titleY": 3, "titleFontSize": 8, "titleFontWeight": "normal", "titleFont": "Liberation Serif"}},
       "color": {"field": "s", "type": "nominal", "scale": {"domain": ["2023","2024","2025","过去十年同期均值","过去十年同期波动范围"], "range": ["#70ad47","#2e75b6","#e02020","#f2b4b4","#a6a6a6"]}, "legend": {"title": null, "orient": "bottom", "direction": "horizontal", "columns": 3, "gridAlign": "all", "columnPadding": 4, "offset": 1}},
       "strokeDash": {"field": "s", "type": "nominal", "scale": {"domain": ["2023","2024","2025","过去十年同期均值","过去十年同期波动范围"], "range": [[1,0],[1,0],[1,0],[1,0],[4,3]]}, "legend": {"title": null, "orient": "bottom", "direction": "horizontal", "columns": 3, "gridAlign": "all", "columnPadding": 4, "offset": 1}},
       "detail": {"field": "b"}}},
     {"transform": [{"filter": {"field": "s", "equal": "过去十年同期均值"}}], "mark": {"type": "line", "interpolate": "monotone", "clip": true, "strokeWidth": 3.5}, "encoding": {"x": {"field": "m", "type": "quantitative"}, "y": {"field": "v", "type": "quantitative"}, "color": {"field": "s", "type": "nominal"}, "strokeDash": {"field": "s", "type": "nominal"}}},
     {"transform": [{"filter": {"field": "s", "equal": "2023"}}], "mark": {"type": "line", "interpolate": "monotone", "clip": true, "strokeWidth": 1.6}, "encoding": {"x": {"field": "m", "type": "quantitative"}, "y": {"field": "v", "type": "quantitative"}, "color": {"field": "s", "type": "nominal"}, "strokeDash": {"field": "s", "type": "nominal"}}},
     {"transform": [{"filter": {"field": "s", "oneOf": ["2024","2025"]}}], "mark": {"type": "line", "clip": true, "strokeWidth": 1.6}, "encoding": {"x": {"field": "m", "type": "quantitative"}, "y": {"field": "v", "type": "quantitative"}, "color": {"field": "s", "type": "nominal"}, "strokeDash": {"field": "s", "type": "nominal"}}},
     {"transform": [{"filter": {"field": "s", "oneOf": ["2024","2025"]}}], "mark": {"type": "point", "shape": "square", "filled": false, "fill": "white", "size": 22, "strokeWidth": 1.2, "opacity": 1, "clip": true}, "encoding": {"x": {"field": "m", "type": "quantitative"}, "y": {"field": "v", "type": "quantitative"}, "color": {"field": "s", "type": "nominal"}}},
     {"data": {"values": [{"m": 10.58, "v": 0.5}]}, "mark": {"type": "point", "shape": "M-1,0A1,0.64 0 1,1 1,0A1,0.64 0 1,1 -1,0Z", "size": 4356, "angle": -55, "filled": false, "stroke": "#1f2d4d", "strokeWidth": 2, "opacity": 1}, "encoding": {"x": {"field": "m", "type": "quantitative"}, "y": {"field": "v", "type": "quantitative"}}}
    ]},
   {"width": 319, "height": 132, "title": {"text": "中国对非洲出口环比", "fontSize": 11.5, "offset": 1}, "data": {"name": "af"},
    "layer": [
     {"mark": {"type": "rule", "color": "#222", "strokeWidth": 0.8}, "encoding": {"y": {"datum": 0}}},
     {"transform": [{"filter": {"field": "s", "equal": "过去十年同期波动范围"}}], "mark": {"type": "line", "interpolate": "monotone", "clip": true, "strokeWidth": 1.1},
      "encoding": {"x": {"field": "m", "type": "quantitative", "scale": {"domain": [0.5, 12.5], "nice": false, "zero": false}, "axis": {"values": [1,2,3,4,5,6,7,8,9,10,11,12], "tickCount": 30, "labelOverlap": false, "labelExpr": "datum.value + '月'", "title": null}},
       "y": {"field": "v", "type": "quantitative", "scale": {"domain": [-30, 40], "nice": false, "zero": false}, "axis": {"values": [-30,-20,-10,0,10,20,30,40], "tickCount": 30, "labelOverlap": false, "title": "%", "titleAngle": 0, "titleAlign": "left", "titleBaseline": "bottom", "titleX": -2, "titleY": -4, "titleFontSize": 8, "titleFontWeight": "normal", "titleFont": "Liberation Serif"}},
       "color": {"field": "s", "type": "nominal", "scale": {"domain": ["2023","2024","2025","过去十年同期均值","过去十年同期波动范围"], "range": ["#70ad47","#2e75b6","#e02020","#f2b4b4","#a6a6a6"]}, "legend": {"title": null, "orient": "bottom", "direction": "horizontal", "columns": 5, "offset": 6}},
       "strokeDash": {"field": "s", "type": "nominal", "scale": {"domain": ["2023","2024","2025","过去十年同期均值","过去十年同期波动范围"], "range": [[1,0],[1,0],[1,0],[1,0],[4,3]]}, "legend": {"title": null, "orient": "bottom", "direction": "horizontal", "columns": 5, "offset": 6}},
       "detail": {"field": "b"}}},
     {"transform": [{"filter": {"field": "s", "equal": "过去十年同期均值"}}], "mark": {"type": "line", "interpolate": "monotone", "clip": true, "strokeWidth": 3.5}, "encoding": {"x": {"field": "m", "type": "quantitative"}, "y": {"field": "v", "type": "quantitative"}, "color": {"field": "s", "type": "nominal"}, "strokeDash": {"field": "s", "type": "nominal"}}},
     {"transform": [{"filter": {"field": "s", "equal": "2023"}}], "mark": {"type": "line", "interpolate": "monotone", "clip": true, "strokeWidth": 1.6}, "encoding": {"x": {"field": "m", "type": "quantitative"}, "y": {"field": "v", "type": "quantitative"}, "color": {"field": "s", "type": "nominal"}, "strokeDash": {"field": "s", "type": "nominal"}}},
     {"transform": [{"filter": {"field": "s", "oneOf": ["2024","2025"]}}], "mark": {"type": "line", "clip": true, "strokeWidth": 1.6}, "encoding": {"x": {"field": "m", "type": "quantitative"}, "y": {"field": "v", "type": "quantitative"}, "color": {"field": "s", "type": "nominal"}, "strokeDash": {"field": "s", "type": "nominal"}}},
     {"transform": [{"filter": {"field": "s", "oneOf": ["2024","2025"]}}], "mark": {"type": "point", "shape": "square", "filled": false, "fill": "white", "size": 22, "strokeWidth": 1.2, "opacity": 1, "clip": true}, "encoding": {"x": {"field": "m", "type": "quantitative"}, "y": {"field": "v", "type": "quantitative"}, "color": {"field": "s", "type": "nominal"}}}
    ]}
  ], "spacing": 8, "resolve": {"scale": {"x": "independent", "y": "independent", "color": "independent", "strokeDash": "independent"}, "legend": {"color": "independent", "strokeDash": "independent"}}}
 ], "spacing": 1, "resolve": {"scale": {"x": "independent", "y": "independent", "color": "independent", "strokeDash": "independent"}, "legend": {"color": "independent", "strokeDash": "independent"}}},
 {"vconcat": [
  {"width": 1, "height": 6, "data": {"values": []}, "mark": "rule", "encoding": {}},
  {"vconcat": [
   {"width": 296, "height": 111, "title": {"text": "中国对拉美出口环比", "fontSize": 11.5, "offset": 1}, "data": {"name": "la"},
    "layer": [
     {"mark": {"type": "rule", "color": "#222", "strokeWidth": 0.8}, "encoding": {"y": {"datum": 0}}},
     {"transform": [{"filter": {"field": "s", "equal": "过去十年同期波动范围"}}], "mark": {"type": "line", "interpolate": "monotone", "clip": true, "strokeWidth": 1.1},
      "encoding": {"x": {"field": "m", "type": "quantitative", "scale": {"domain": [0.5, 12.5], "nice": false, "zero": false}, "axis": {"values": [1,2,3,4,5,6,7,8,9,10,11,12], "tickCount": 30, "labelOverlap": false, "labelExpr": "datum.value + '月'", "title": null}},
       "y": {"field": "v", "type": "quantitative", "scale": {"domain": [-20, 40], "nice": false, "zero": false}, "axis": {"values": [-20,-10,0,10,20,30,40], "tickCount": 30, "labelOverlap": false, "title": "%", "titleAngle": 0, "titleAlign": "left", "titleBaseline": "bottom", "titleX": -2, "titleY": -5, "titleFontSize": 8, "titleFontWeight": "normal", "titleFont": "Liberation Serif"}},
       "color": {"field": "s", "type": "nominal", "scale": {"domain": ["2023","2024","2025","过去十年同期均值","过去十年同期波动范围"], "range": ["#70ad47","#2e75b6","#e02020","#f2b4b4","#a6a6a6"]}, "legend": {"title": null, "orient": "bottom", "direction": "horizontal", "columns": 3, "gridAlign": "all", "columnPadding": 5, "offset": 7}},
       "strokeDash": {"field": "s", "type": "nominal", "scale": {"domain": ["2023","2024","2025","过去十年同期均值","过去十年同期波动范围"], "range": [[1,0],[1,0],[1,0],[1,0],[4,3]]}, "legend": {"title": null, "orient": "bottom", "direction": "horizontal", "columns": 3, "gridAlign": "all", "columnPadding": 5, "offset": 7}},
       "detail": {"field": "b"}}},
     {"transform": [{"filter": {"field": "s", "equal": "过去十年同期均值"}}], "mark": {"type": "line", "interpolate": "monotone", "clip": true, "strokeWidth": 3.5}, "encoding": {"x": {"field": "m", "type": "quantitative"}, "y": {"field": "v", "type": "quantitative"}, "color": {"field": "s", "type": "nominal"}, "strokeDash": {"field": "s", "type": "nominal"}}},
     {"transform": [{"filter": {"field": "s", "equal": "2023"}}], "mark": {"type": "line", "interpolate": "monotone", "clip": true, "strokeWidth": 1.6}, "encoding": {"x": {"field": "m", "type": "quantitative"}, "y": {"field": "v", "type": "quantitative"}, "color": {"field": "s", "type": "nominal"}, "strokeDash": {"field": "s", "type": "nominal"}}},
     {"transform": [{"filter": {"field": "s", "oneOf": ["2024","2025"]}}], "mark": {"type": "line", "clip": true, "strokeWidth": 1.6}, "encoding": {"x": {"field": "m", "type": "quantitative"}, "y": {"field": "v", "type": "quantitative"}, "color": {"field": "s", "type": "nominal"}, "strokeDash": {"field": "s", "type": "nominal"}}},
     {"transform": [{"filter": {"field": "s", "oneOf": ["2024","2025"]}}], "mark": {"type": "point", "shape": "square", "filled": false, "fill": "white", "size": 22, "strokeWidth": 1.2, "opacity": 1, "clip": true}, "encoding": {"x": {"field": "m", "type": "quantitative"}, "y": {"field": "v", "type": "quantitative"}, "color": {"field": "s", "type": "nominal"}}}
    ]},
   {"width": 304, "height": 135, "title": {"text": "中国对中西亚地区出口环比", "fontSize": 14, "offset": 4}, "data": {"name": "cw"},
    "layer": [
     {"mark": {"type": "rule", "color": "#888", "strokeWidth": 1}, "encoding": {"y": {"datum": 0}}},
     {"transform": [{"filter": {"field": "s", "equal": "过去十年同期波动范围"}}], "mark": {"type": "line", "interpolate": "monotone", "clip": true, "strokeWidth": 1.1},
      "encoding": {"x": {"field": "m", "type": "quantitative", "scale": {"domain": [0.5, 12.5], "nice": false, "zero": false}, "axis": {"values": [1,2,3,4,5,6,7,8,9,10,11,12], "tickCount": 30, "labelOverlap": false, "format": "d", "title": "月", "titleFontSize": 13, "titleFont": "Noto Sans CJK SC", "titleFontWeight": "normal", "titleAlign": "left", "titleBaseline": "alphabetic", "titleX": 296, "titleY": 13}},
       "y": {"field": "v", "type": "quantitative", "scale": {"domain": [-40, 40], "nice": false, "zero": false}, "axis": {"values": [-40,-30,-20,-10,0,10,20,30,40], "tickCount": 30, "labelOverlap": false, "labelExpr": "format(datum.value, '.1f') + '%'", "title": null, "labelFontSize": 7}},
       "color": {"field": "s", "type": "nominal", "scale": {"domain": ["2023年","2024年","过去十年同期均值","2025年","过去十年同期波动范围"], "range": ["#70ad47","#2e75b6","#f2b4b4","#e02020","#a6a6a6"]}, "legend": {"title": null, "orient": "bottom", "direction": "horizontal", "columns": 3, "gridAlign": "all", "columnPadding": 4, "offset": 6}},
       "strokeDash": {"field": "s", "type": "nominal", "scale": {"domain": ["2023年","2024年","过去十年同期均值","2025年","过去十年同期波动范围"], "range": [[1,0],[1,0],[1,0],[1,0],[4,3]]}, "legend": {"title": null, "orient": "bottom", "direction": "horizontal", "columns": 3, "gridAlign": "all", "columnPadding": 4, "offset": 6}},
       "detail": {"field": "b"}}},
     {"transform": [{"filter": {"field": "s", "equal": "过去十年同期均值"}}], "mark": {"type": "line", "interpolate": "monotone", "clip": true, "strokeWidth": 3.5}, "encoding": {"x": {"field": "m", "type": "quantitative"}, "y": {"field": "v", "type": "quantitative"}, "color": {"field": "s", "type": "nominal"}, "strokeDash": {"field": "s", "type": "nominal"}}},
     {"transform": [{"filter": {"field": "s", "equal": "2023年"}}], "mark": {"type": "line", "interpolate": "monotone", "clip": true, "strokeWidth": 1.6}, "encoding": {"x": {"field": "m", "type": "quantitative"}, "y": {"field": "v", "type": "quantitative"}, "color": {"field": "s", "type": "nominal"}, "strokeDash": {"field": "s", "type": "nominal"}}},
     {"transform": [{"filter": {"field": "s", "oneOf": ["2024年","2025年"]}}], "mark": {"type": "line", "clip": true, "strokeWidth": 1.6}, "encoding": {"x": {"field": "m", "type": "quantitative"}, "y": {"field": "v", "type": "quantitative"}, "color": {"field": "s", "type": "nominal"}, "strokeDash": {"field": "s", "type": "nominal"}}},
     {"transform": [{"filter": {"field": "s", "oneOf": ["2024年","2025年"]}}], "mark": {"type": "point", "shape": "square", "filled": false, "fill": "white", "size": 22, "strokeWidth": 1.2, "opacity": 1, "clip": true}, "encoding": {"x": {"field": "m", "type": "quantitative"}, "y": {"field": "v", "type": "quantitative"}, "color": {"field": "s", "type": "nominal"}}}
    ]}
  ], "spacing": 11, "resolve": {"scale": {"x": "independent", "y": "independent", "color": "independent", "strokeDash": "independent"}, "legend": {"color": "independent", "strokeDash": "independent"}}}
 ], "spacing": 1, "resolve": {"scale": {"x": "independent", "y": "independent", "color": "independent", "strokeDash": "independent"}, "legend": {"color": "independent", "strokeDash": "independent"}}}
], "spacing": 9, "resolve": {"scale": {"x": "independent", "y": "independent", "color": "independent", "strokeDash": "independent"}, "legend": {"color": "independent", "strokeDash": "independent"}}},
{"width": 1024, "height": 8, "data": {"values": [{"a": -0.0254, "b": 1, "y": 0}]}, "mark": {"type": "rule", "color": "#1f3c73", "strokeWidth": 2}, "encoding": {"x": {"field": "a", "type": "quantitative", "scale": {"domain": [0, 1]}, "axis": null}, "x2": {"field": "b"}, "y": {"field": "y", "type": "quantitative", "scale": {"domain": [0, 1]}, "axis": null}},
 "title": {"text": "资料来源：Wind，华创证券\u00a0\u00a0\u00a0 其他地区=总体出口-美国、欧盟、拉美、东盟、非洲、中西亚地区。", "orient": "bottom", "anchor": "start", "fontSize": 17, "fontStyle": "italic", "fontWeight": "normal", "color": "#1f3c73", "offset": 4}}
],
"config": {
 "view": {"stroke": null},
 "font": "Noto Sans CJK SC",
 "axis": {"labelFont": "Liberation Serif", "labelColor": "#222", "grid": false, "labelOverlap": false},
 "axisY": {"domainColor": "#999", "tickColor": "#999", "tickSize": 3, "labelFontSize": 7.5, "labelPadding": 2, "labelFlush": false},
 "axisX": {"domain": false, "ticks": false, "labelFontSize": 7, "labelPadding": 5, "labelFlush": false, "labelFont": "Liberation Serif, Noto Sans CJK SC"},
 "legend": {"symbolType": "M-1,0H3.4", "symbolSize": 100, "symbolStrokeWidth": 2, "labelOffset": 15, "labelFontSize": 6.5, "labelFont": "Liberation Serif, Noto Sans CJK SC", "labelColor": "#222", "columnPadding": 3, "rowPadding": 4, "padding": 0},
 "title": {"font": "Noto Sans CJK SC", "fontWeight": "bold", "color": "#111"}
}
}
